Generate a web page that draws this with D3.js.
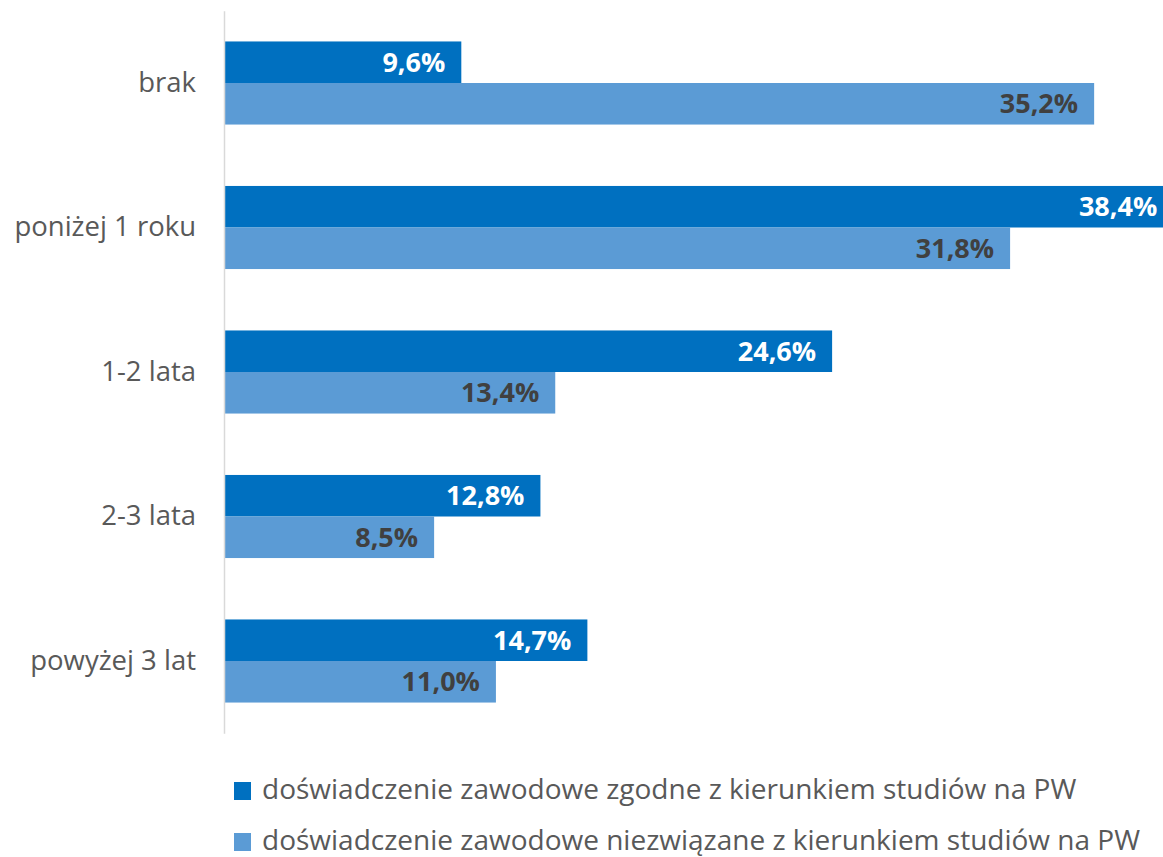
<!DOCTYPE html>
<html>
<head>
<meta charset="utf-8">
<script src="https://cdn.jsdelivr.net/npm/d3@7"></script>
<style>
    body { margin: 0; background: #fff; }
    text { font-family: "Open Sans", "DejaVu Sans", sans-serif; }
</style>
</head>
<body>
<div id="chart"></div>
<script>
const categories = ["brak", "poniżej 1 roku", "1-2 lata", "2-3 lata", "powyżej 3 lat"];
const seriesNames = [
    "doświadczenie zawodowe zgodne z kierunkiem studiów na PW",
    "doświadczenie zawodowe niezwiązane z kierunkiem studiów na PW"
];
const related = [9.6, 38.4, 24.6, 12.8, 14.7];
const unrelated = [35.2, 31.8, 13.4, 8.5, 11.0];
const colors = ["#0070C0", "#5B9BD5"];
const labelColors = ["#ffffff", "#404040"];

const width = 1163, height = 857;

const svg = d3.select("#chart")
    .append("svg")
    .attr("width", width)
    .attr("height", height);

const x = d3.scaleLinear()
    .domain([0, 40])
    .range([224, 224 + 40 * 24.72]);

const y = d3.scaleBand()
    .domain(categories)
    .range([10.75, 733.25])
    .paddingInner(0.425)
    .paddingOuter(0.2125);

const ySub = d3.scaleBand()
    .domain([0, 1])
    .range([0, y.bandwidth()]);

const rows = categories.map((c, i) => ({ cat: c, values: [related[i], unrelated[i]] }));

const groups = svg.append("g")
    .selectAll("g")
    .data(rows)
    .enter().append("g")
    .attr("transform", d => `translate(0,${y(d.cat)})`);

groups.selectAll("rect")
    .data(d => d.values.map((v, s) => ({ v, s })))
    .enter().append("rect")
    .attr("x", x(0))
    .attr("y", d => ySub(d.s))
    .attr("width", d => x(d.v) - x(0))
    .attr("height", ySub.bandwidth())
    .attr("fill", d => colors[d.s]);

groups.selectAll("text.val")
    .data(d => d.values.map((v, s) => ({ v, s })))
    .enter().append("text")
    .attr("class", "val")
    .attr("x", d => x(d.v) - 16)
    .attr("y", d => ySub(d.s) + ySub.bandwidth() / 2)
    .attr("dy", "0.36em")
    .attr("text-anchor", "end")
    .attr("font-size", 27)
    .attr("font-weight", "bold")
    .attr("fill", d => labelColors[d.s])
    .text(d => d3.format(".1f")(d.v).replace(".", ",") + "%");

// category axis
const yAxis = svg.append("g")
    .attr("transform", `translate(${x(0)},0)`)
    .call(d3.axisLeft(y).tickSize(0).tickPadding(28));
yAxis.select(".domain").attr("stroke", "#d9d9d9").attr("stroke-width", 1.5);
yAxis.selectAll("text")
    .attr("font-size", 27.5)
    .attr("fill", "#595959")
    .style("font-family", "'Open Sans', sans-serif");

// legend
const legend = svg.append("g")
    .selectAll("g")
    .data(seriesNames)
    .enter().append("g")
    .attr("transform", (d, i) => `translate(234,${782 + i * 51})`);

legend.append("rect")
    .attr("width", 17)
    .attr("height", 18)
    .attr("fill", (d, i) => colors[i]);

legend.append("text")
    .attr("x", 28)
    .attr("y", 17)
    .attr("font-size", 28)
    .attr("fill", "#595959")
    .text(d => d);
</script>
</body>
</html>
